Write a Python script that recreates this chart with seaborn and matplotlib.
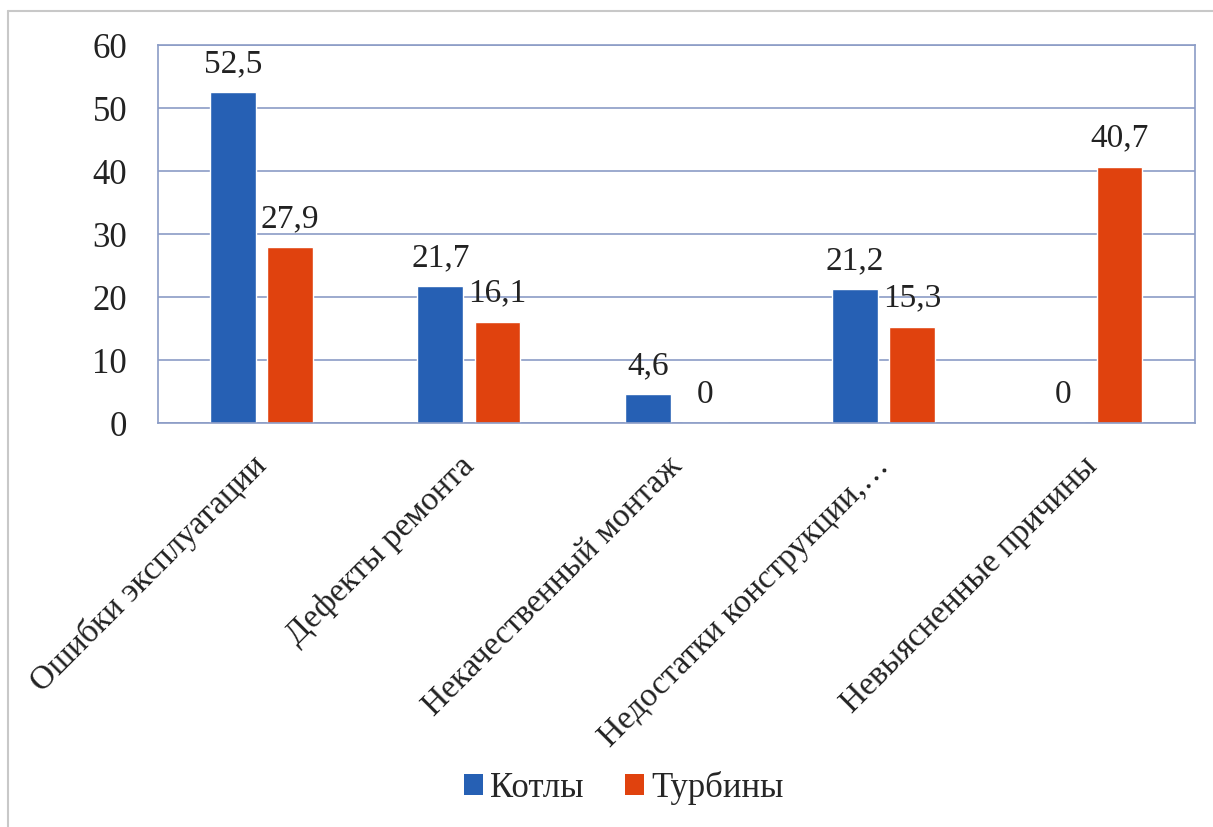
import matplotlib
matplotlib.use("Agg")
import matplotlib.pyplot as plt
from matplotlib.lines import Line2D
from matplotlib.patches import Patch
from matplotlib.transforms import ScaledTranslation
import seaborn as sns
import pandas as pd

categories = ["Ошибки эксплуатации", "Дефекты ремонта", "Некачественный монтаж",
              "Недостатки конструкции,…", "Невыясненные причины"]
series_names = ["Котлы", "Турбины"]
kotly = [52.5, 21.7, 4.6, 21.2, 0]
turbiny = [27.9, 16.1, 0, 15.3, 40.7]
y_ticks = [0, 10, 20, 30, 40, 50, 60]
colors = ["#2660b4", "#e0420e"]

sns.set_theme(style="white")
plt.rcParams['font.family'] = ['Liberation Serif', 'DejaVu Serif']

df = pd.DataFrame({
    "cat": categories * 2,
    "series": [series_names[0]] * len(categories) + [series_names[1]] * len(categories),
    "val": kotly + turbiny,
})

fig = plt.figure(figsize=(12.13, 8.27), dpi=100)
ax = fig.add_axes([0.130, 0.4885, 0.855, 0.457])
sns.barplot(data=df, x="cat", y="val", hue="series", palette=colors,
            width=0.55, gap=0.2, ax=ax, legend=False, saturation=1)

ax.set_ylim(0, 60)
ax.set_yticks(y_ticks)
ax.set_yticklabels([str(t) for t in y_ticks], fontsize=25, color="#222222")
ax.set_xlabel("")
ax.set_ylabel("")
ax.yaxis.grid(True, color="#8b9cc6", linewidth=1.2)
ax.set_axisbelow(True)
for s in ax.spines.values():
    s.set_color("#8b9cc6")
    s.set_linewidth(1.2)
ax.tick_params(axis="y", length=0, pad=22)
ax.tick_params(axis="x", length=0, pad=32)
ax.set_xticks(range(len(categories)))
ax.set_xticklabels(categories, rotation=45, ha="right", va="baseline",
                   rotation_mode="anchor", fontsize=24, color="#222222")
shift = ScaledTranslation(7 / 100, 0, fig.dpi_scale_trans)
for lab in ax.get_xticklabels():
    lab.set_transform(lab.get_transform() + shift)

for cont in ax.containers:
    labels = [f"{b.get_height():g}".replace(".", ",") for b in cont]
    ax.bar_label(cont, labels=labels, padding=9.5, fontsize=24, color="#222222")

handles = [Patch(facecolor=c, edgecolor="none") for c in colors]
fig.legend(handles, series_names, loc="center", bbox_to_anchor=(0.514, 0.047),
           ncol=2, frameon=False, fontsize=25, handlelength=0.55, handleheight=0.55,
           handletextpad=0.2, columnspacing=1.2)

fig.add_artist(Line2D([0.0066, 1.0], [0.987, 0.987], color="#c8c8c8", linewidth=1.5,
                      transform=fig.transFigure))
fig.add_artist(Line2D([0.0066, 0.0066], [0.987, 0.0], color="#c8c8c8", linewidth=1.5,
                      transform=fig.transFigure))

fig.savefig("out.png", dpi=100, facecolor="white")
